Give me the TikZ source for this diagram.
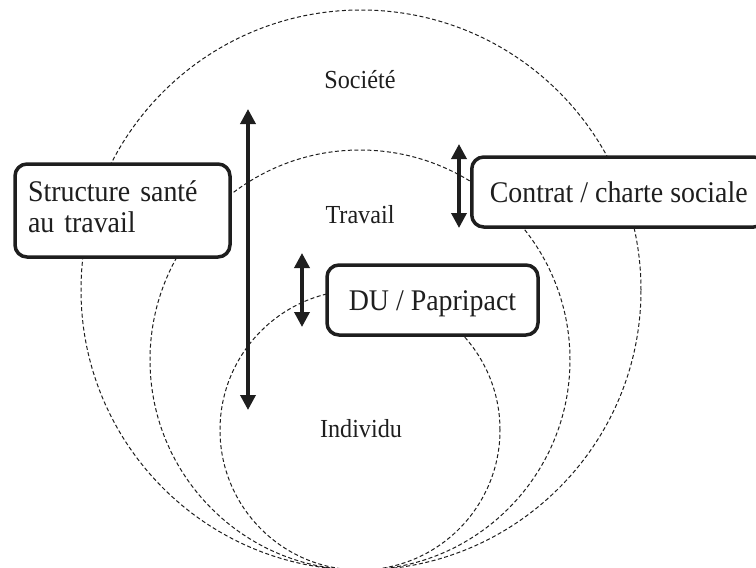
\documentclass[tikz,border=0pt]{standalone}
\usepackage{fontspec}
\setmainfont[FakeStretch=0.93]{Liberation Serif}
\usetikzlibrary{arrows.meta}
\definecolor{ink}{HTML}{1E1E1E}
\begin{document}
\begin{tikzpicture}[x=1pt,y=-1pt,
  ring/.style={draw=ink, line width=1pt, dash pattern=on 4pt off 2.5pt},
  box/.style={draw=ink, fill=white, line width=3.5pt, rounded corners=12pt, inner sep=0pt,
    font=\fontsize{30}{31}\selectfont, text=ink},
  lab/.style={font=\fontsize{26}{28}\selectfont, text=ink, inner sep=0pt, anchor=base},
  dbl/.style={draw=ink, line width=3.5pt, {Triangle[length=15pt,width=15pt]}-{Triangle[length=15pt,width=15pt]}}]
\useasboundingbox (0,0) rectangle (756,568);
\clip (0,0) rectangle (756,568);
% rings
\node[ring, circle, minimum size=560pt, inner sep=0pt] (soc) at (361,290) {};
\node[ring, circle, minimum size=420pt, inner sep=0pt] (trav) at (360,360) {};
\node[ring, circle, minimum size=280pt, inner sep=0pt] (ind) at (360,430) {};
% labels
\node[lab] (lsoc) at (360,88) {Société};
\node[lab] (ltrav) at (360,223) {Travail};
\node[lab] (lind) at (361,437) {Individu};
% boxes
\node[box, minimum width=215pt, minimum height=93pt, inner xsep=13pt, text width=189pt, align=left,
  text height=21pt, text depth=40pt] (struct) at (122.5,210.5) {Structure santé\\au travail};
\node[box, anchor=west, minimum height=70pt, inner xsep=18pt,
  text height=21pt, text depth=1pt] (contrat) at (470,192) {Contrat / charte sociale};
\node[box, minimum width=211pt, minimum height=70pt, text height=21pt, text depth=1pt] (du) at (432.5,300) {DU / Papripact};
% arrows
\coordinate (a1) at (248,109);
\coordinate (a2) at (248,410);
\coordinate (b1) at (302,253);
\coordinate (b2) at (302,327);
\coordinate (c1) at (459,144);
\coordinate (c2) at (459,228);
\draw[dbl] (a1) -- (a2);
\draw[dbl] (b1) -- (b2);
\draw[dbl] (c1) -- (c2);
\end{tikzpicture}
\end{document}
